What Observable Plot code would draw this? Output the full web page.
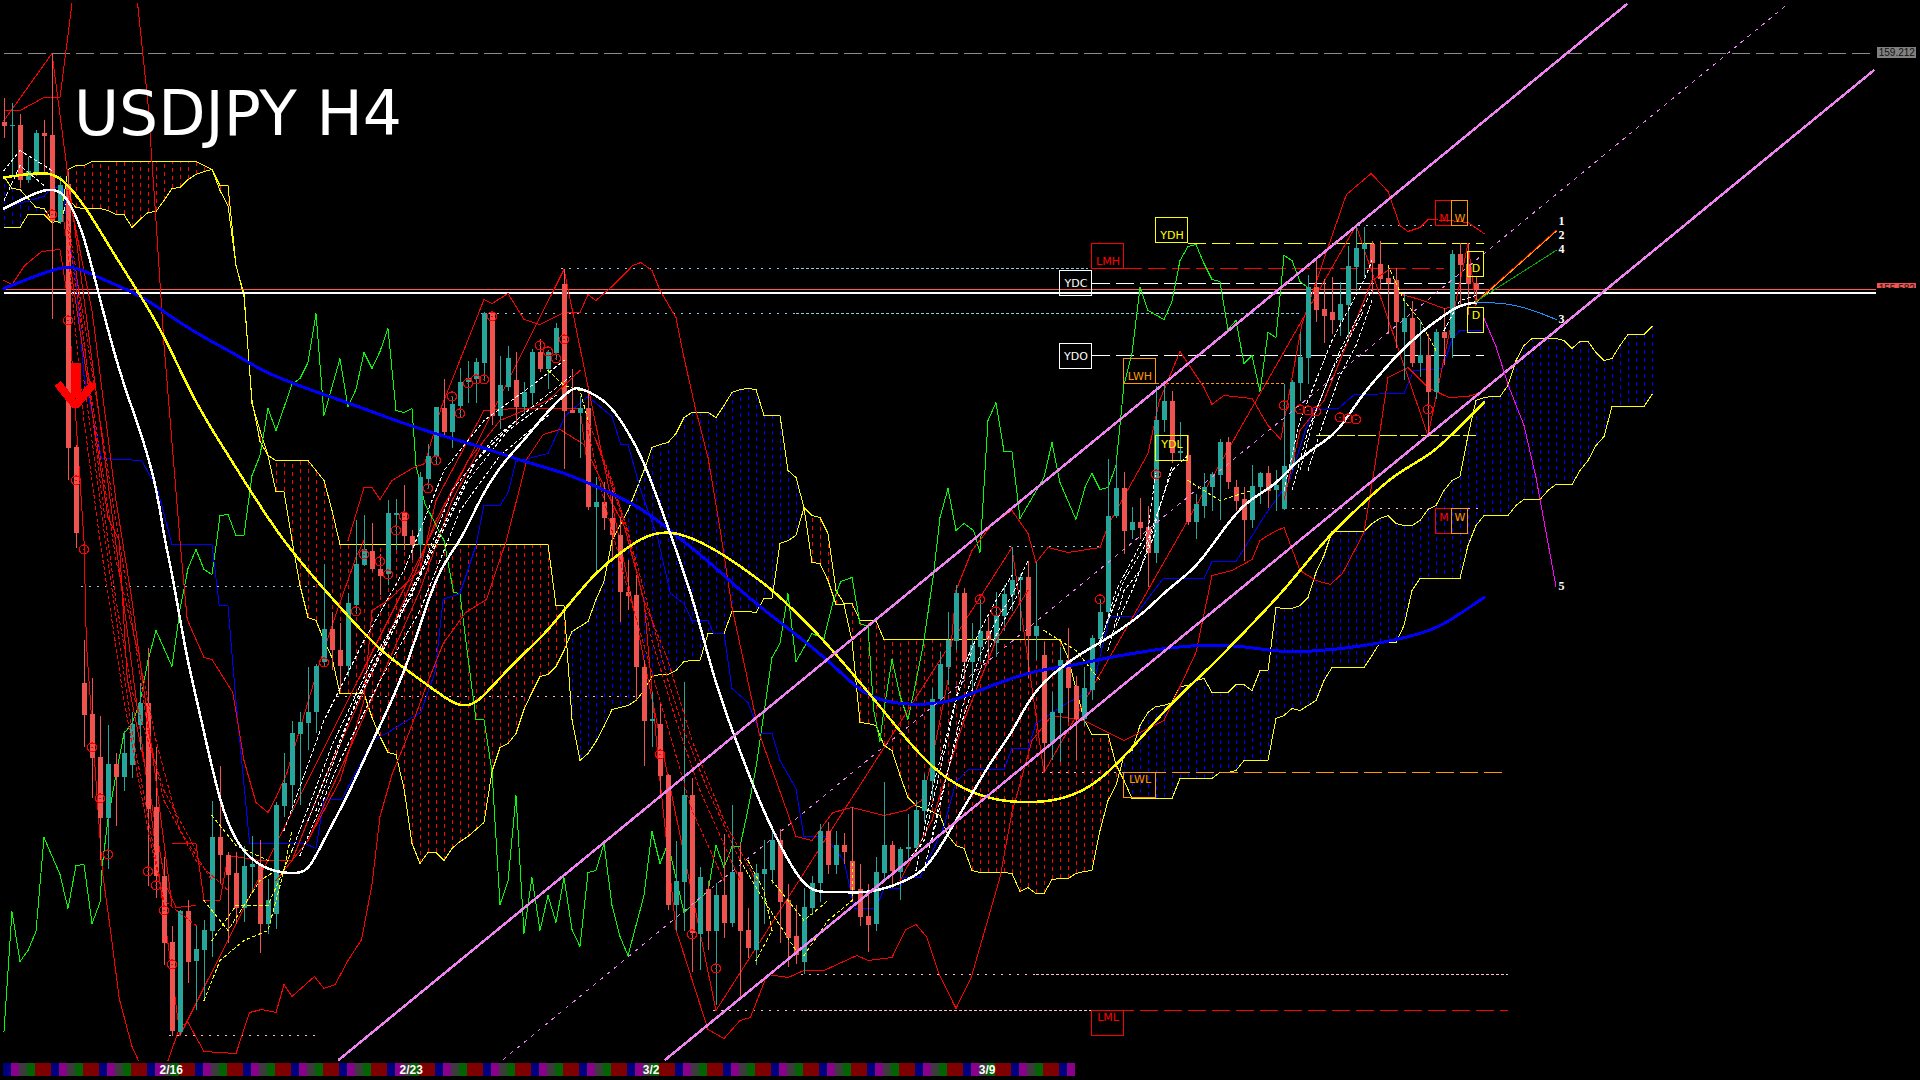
<!DOCTYPE html>
<html>
<head>
<meta charset="utf-8">
<title>USDJPY H4</title>
<style>html,body{margin:0;padding:0;background:#000;overflow:hidden}svg{display:block}svg path,svg line,svg rect,svg circle{shape-rendering:crispEdges}</style>
<script src="https://cdn.jsdelivr.net/npm/d3@7"></script>
<script src="https://cdn.jsdelivr.net/npm/@observablehq/plot@0.6"></script>
</head>
<body>
<div id="chart"></div>
<script>
// Horizontal unit: chart bar number. Vertical unit: price ticks counted down from the top of the price window.
const open = [122,126,125,180,172,133,135,222,184,447,683,714,757,818,764,777,765,725,703,807,876,942,1032,911,961,950,931,837,855,873,908,867,864,924,914,806,785,734,723,712,662,629,650,666,605,565,551,569,574,515,513,536,545,479,456,408,432,406,382,379,363,313,416,387,380,407,393,352,369,353,284,410,413,408,507,502,518,535,592,595,667,721,724,775,905,882,795,934,889,931,895,923,872,930,950,874,870,840,900,936,962,908,883,831,865,845,861,889,916,924,873,845,872,849,848,811,781,699,667,641,593,662,647,631,643,616,595,580,577,636,655,743,713,660,686,719,690,639,612,516,488,530,522,527,553,420,401,453,455,522,506,487,475,442,487,499,520,487,473,490,509,466,383,358,287,309,312,320,305,267,249,244,264,278,280,332,318,363,355,392,332,338,254,264,283];
const close = [126,125,180,171,133,136,221,185,448,533,715,758,818,764,777,753,724,703,809,876,943,1031,911,962,949,930,837,855,875,908,866,864,924,900,805,783,733,722,712,666,629,650,666,603,564,549,569,576,513,513,536,545,477,456,407,432,404,382,378,362,313,416,385,358,407,392,352,369,352,328,411,413,408,507,502,518,535,592,596,667,721,719,776,905,881,795,933,877,931,895,923,872,931,948,873,869,840,902,938,955,907,883,831,865,845,852,890,917,925,872,845,871,849,847,810,780,699,664,640,593,662,645,631,640,615,594,580,577,636,626,743,712,660,688,719,688,638,612,516,488,531,522,528,553,420,401,453,451,522,504,487,474,442,482,501,520,486,473,491,485,466,382,357,287,310,316,320,304,266,248,244,263,279,283,322,318,363,355,392,332,338,254,265,284,289];
const high = [98,103,114,157,130,120,53,176,172,445,640,678,716,725,753,731,712,683,648,747,857,926,910,900,926,920,801,766,852,852,846,836,840,879,802,753,721,712,667,664,564,612,623,593,520,515,523,554,500,499,485,530,472,444,407,379,396,368,361,358,312,312,356,346,352,382,349,339,350,323,269,369,396,389,477,482,490,517,560,575,660,692,702,774,841,682,778,867,881,883,834,805,843,908,864,840,829,829,884,905,888,876,824,822,831,833,807,864,884,857,782,841,847,814,800,774,688,652,612,585,588,623,599,617,592,585,547,574,561,562,642,692,647,628,676,667,635,600,459,460,472,507,498,506,386,384,391,422,435,494,473,472,439,437,480,487,465,472,466,470,384,380,332,275,258,279,277,282,246,225,227,241,241,268,268,294,301,320,334,329,308,250,243,243,277];
const low = [138,176,188,183,176,172,319,224,480,548,747,798,860,869,826,791,778,750,886,898,965,1036,1035,983,1010,1001,957,884,943,924,922,891,953,934,929,817,812,805,750,733,666,670,688,676,614,566,571,595,585,550,550,560,560,489,465,437,448,417,403,403,381,425,429,391,425,413,405,372,389,360,469,413,458,510,575,530,560,622,610,700,766,747,795,910,931,931,972,970,950,1005,938,927,998,958,965,924,884,943,967,964,974,915,902,874,874,864,902,926,952,931,881,888,900,859,855,822,798,702,685,650,678,688,662,664,657,631,611,631,678,660,772,760,762,722,760,726,700,648,621,518,554,539,539,587,563,432,463,460,525,539,518,511,520,489,511,561,528,504,508,511,510,470,401,384,322,343,334,336,339,291,277,294,289,334,348,380,367,377,434,399,365,358,305,315,305];

// Ichimoku spans, one reading per bar (the cloud runs on past the last candle).
const spanB = [227,227,227,214,214,214,222,220,169,165,165,161,161,161,161,161,161,161,161,161,161,161,161,161,161,165,169,185,185,265,293,403,430,455,460,460,460,460,460,470,480,510,544,544,544,544,544,544,544,544,544,544,544,544,544,544,544,544,544,544,544,544,544,544,544,544,544,544,544,605,605,719,760,753,741,726,709,707,705,700,690,676,674,674,670,661,660,660,633,633,633,611,611,611,612,598,598,543,540,535,507,515,517,533,590,603,603,620,620,620,639,639,639,639,639,639,639,639,639,639,639,639,639,639,639,639,639,639,639,639,639,639,639,657,688,719,734,734,734,764,780,798,798,798,798,798,798,778,778,778,778,778,772,772,770,760,760,760,760,718,715,708,710,705,700,680,667,667,667,667,667,655,642,642,642,625,590,578,578,578,578,578,578,545,525,515,515,515,515,505,499,499,499,490,484,484,484,470,460,445,436,406,406,406,406,406,394];
const spanA = [176,188,189,198,207,208,220,222,198,207,208,208,208,210,214,214,227,219,212,211,200,188,187,179,174,171,169,190,205,265,296,400,441,455,491,491,540,585,617,620,640,657,693,693,693,693,717,736,752,754,788,843,863,852,852,860,848,841,836,829,822,771,747,743,733,709,692,676,674,666,650,631,626,621,599,581,540,525,510,490,470,447,444,442,433,417,412,412,412,417,405,392,389,388,389,415,415,415,470,477,507,562,563,580,604,604,640,722,723,725,745,750,775,797,805,808,811,815,835,845,848,870,872,872,872,872,873,891,887,893,893,879,878,878,873,871,870,830,800,785,755,750,725,712,706,705,702,686,685,680,678,692,692,692,684,684,690,670,670,607,608,608,605,597,572,555,531,531,531,531,531,523,518,515,523,525,525,520,509,505,490,480,476,435,400,397,396,396,385,360,345,338,338,338,338,340,348,341,341,352,360,358,345,334,334,334,326];

// Moving averages: [bar, ticks] readings.
const maWhite = [[0,208],[3,196],[5,189],[7,189],[8.3,203],[10,234],[11.8,293],[14.4,372],[16.9,427],[19,482],[20,537],[21,571],[22.8,657],[24.6,716],[27,805],[29.2,845],[31.4,862],[33.5,871],[37,874],[38.3,867],[40.4,833],[43,795],[45.5,750],[48,709],[50.6,660],[52.6,609],[54.7,564],[57.2,540],[59.8,492],[62.8,458],[64.9,441],[68,410],[71,387],[72,387],[75.6,401],[77.6,427],[79.6,451],[83.6,540],[86.2,599],[88.7,678],[91.3,736],[93.9,791],[96.4,836],[99,874],[101,893],[104.6,891],[108,893],[111.7,884],[115.3,871],[118.3,829],[120.9,795],[123.4,760],[126,733],[128.5,692],[132,667],[135.2,650],[138,638],[142.8,611],[144.9,592],[149,568],[151.5,539],[155,501],[159,485],[161.2,463],[164,446],[166.8,432],[169.7,394],[172.8,367],[173.9,356],[177.5,329],[180,315],[182,304],[184,302]];
const maYellow = [[0,177],[5,171],[7.2,176],[10.3,207],[13.3,248],[16.9,293],[20,334],[23.5,396],[26.6,437],[30.7,489],[34.8,540],[39.9,588],[43.4,619],[47,650],[50.6,671],[54.7,695],[56.7,705],[58,705],[59.3,702],[63.8,661],[67.4,636],[70.5,605],[74,571],[77.6,549],[79.6,538],[82,531],[85,533],[89.6,552],[93.3,573],[96.2,590],[100.4,623],[102.5,640],[108.1,692],[112.2,733],[115.9,767],[120,790],[124.5,801],[128.5,802],[131.6,800],[135.2,790],[138.2,771],[141.8,741],[145.9,702],[150,673],[155,632],[160,590],[162.7,563],[166.2,530],[170.4,499],[173.9,473],[178.5,454],[181.6,429],[185,402]];
const maBlue = [[0,288],[7.2,265],[9.2,267],[13.8,284],[17.4,296],[21.5,320],[25,337],[29.2,355],[32.2,370],[35.8,382],[39.9,394],[44,405],[49.5,422],[54.7,435],[60.3,448],[64.9,461],[70,472],[73.5,484],[79.6,506],[83.7,533],[88,560],[92,590],[96.2,617],[100,640],[104,667],[106.6,688],[109.7,702],[115.3,705],[118.8,700],[121.9,690],[125.5,679],[129,670],[133,666],[138,657],[143.3,650],[147.9,645],[153.5,644],[159,651],[162.2,652],[170.4,646],[178,632],[180.6,621],[185,597]];

const oscGreen = [[0,1031],[1,911],[2,961],[3,950],[4,931],[5,837],[7,874],[8,908],[9,865],[10,864],[11,923],[12,902],[12.3,864],[13,819],[14,774],[15,733],[16,723],[17,702],[18,660],[19,630],[21,666],[22,609],[23,568],[24,549],[25,569],[26,574],[26.6,540],[27,515],[28,514],[29,535],[30,535],[31,475],[32,455],[33,408],[34,430],[36,384],[37,378],[38,362],[39,313],[40,415],[42,358],[43,406],[44,389],[45,352],[46,368],[47,351],[48,328],[49,410],[50,412],[51,408],[51.5,465],[52.6,503],[55,540],[56.2,592],[57,593],[58,657],[59,719],[60,719],[61,771],[62,904],[63,881],[64,795],[65,933],[66,877],[67,930],[68,895],[69,922],[70,877],[71,929],[72,946],[73,872],[74,870],[75,843],[76,905],[77,936],[78,955],[80,895],[81,831],[82,863],[83,843],[85,912],[88,891],[89,845],[90,867],[91,846],[92,846],[93,809],[94,767],[95,712],[96,657],[97,643],[98,593],[99,661],[101,633],[102.5,638],[103.6,602],[104.6,581],[106,577],[107,623],[108,626],[108.7,709],[109.5,741],[110,709],[111,659],[112,695],[113,719],[114,681],[115,640],[116.2,573],[117,517],[118,488],[119,530],[120,523],[121.2,530],[122,552],[123,420],[124,402],[125,451],[126,451],[127,518],[130,477],[131,442],[132,482],[134,519],[135.2,485],[136,473],[137,489],[138,487],[139,465],[140,384],[141,353],[142,287],[143,310],[145,319],[146,301],[147,260],[148,246],[149,244],[150,263],[151,279],[152,281],[153,329],[154,320],[155,363],[156,355],[157,391],[158,332],[159,337],[160,255],[161,260],[162,281],[163,287]];

const bandTopA = [[0,110],[2,110],[5,97],[7,97],[8.5,3]];
const bandTopB = [[16.7,3],[18,103],[19,220],[20,344],[22,540],[22.9,619],[25,657],[26,659],[28.6,692],[30,760],[31.5,802],[33,812],[34,797],[35.3,774],[39.4,664],[42,602],[44,557],[45,540]];
const bandRise = [[43,540],[45,487],[46,487],[47,499],[48.5,480],[51,468],[52.6,463],[54.7,406],[60,299],[61,303],[63,293],[65,319],[67,324],[70,312],[72,312],[73,294],[74,300],[76,286],[78.6,265],[79.6,262],[81,270],[82,290],[84,317],[85,357],[86.4,407],[88,457],[89.6,533],[91,607],[94.4,733],[97,791],[99,836],[101,840],[103.6,812],[106,807],[110,815],[112.7,810],[114.7,800],[116,760],[118,680],[119,590],[121,550],[123.6,523],[126,510],[128,533],[129,562],[130.5,547],[133,552],[137,547],[138,525],[143,453],[144.4,401],[147,351],[150,387],[151,404],[152.5,395],[156,398],[158,425],[159.6,439],[162.2,325],[164.8,263],[167.8,194],[170.9,173],[173,191],[174.5,225],[175.5,231],[177,227],[178,219],[180.6,220],[183,222],[185,233]];
const bandLowA = [[0,280],[1,284],[2.6,265],[4.7,251],[7,249],[8,300],[10,540],[10.3,643],[11.8,815],[12.3,871],[13.3,929],[14.4,998],[16,1046],[16.8,1060]];
const bandLowB = [[20.5,1060],[22,1026],[23,1022],[25,1051],[29,1053],[30.7,1012],[32.2,1009],[34,1012],[35,984],[36,996],[38.8,976],[40,988],[41.4,984],[43,960],[44.7,939],[46,884],[47,816],[48.5,774],[50.6,733],[53,681],[54.9,643],[57.7,612],[60.3,599],[62.8,540],[65.4,458],[67.4,434],[69.5,429],[72.5,444],[75.6,496],[77.6,527],[80,600],[82,780],[84,929],[86.2,984],[88,1029],[90,1038],[92,1020],[93.3,1017],[95.4,974],[98,977],[100,970],[102.5,970],[106.6,955],[108,960],[111,957],[112.7,929],[114,924],[115.3,936],[116.8,972],[119,1008],[120.9,977],[124.5,877],[126,812],[128.5,740],[131,715],[135,720],[140,740],[145,720],[149,652],[151,575],[153.5,570],[156,559],[157,540],[158.6,532],[160,527],[162,570],[164,580],[165.8,584],[167.3,573],[170,532],[171.4,463],[173,377],[175.5,367],[178,387],[180.6,397],[183,396],[185,391]];
const bandFast = [[7,193],[8,250],[13,517],[14.4,540],[15.4,678],[18,781],[20.2,884],[21.5,907],[24,905]];
const bandShort = [[174.7,294],[177,299],[180,308],[182.4,305]];
const zigzag = [[0,120],[6,53],[22,1035],[70,269],[89,1010],[126,547],[130,772],[169,225],[178,435],[183,243],[184,305]];
const tenkan = [[21,843],[24,843],[25,900],[27,900],[28,855],[32,860],[36,860],[38,840],[42,780],[45,700],[46,610],[48,600],[52,570],[54,500],[58,440],[60,410],[64,408],[70,408],[72,408],[73,470]];
const kijunBlue = [[0,207],[5,196],[6,186],[7.4,188],[8,231],[9,279],[10,375],[12.2,458],[17.2,460],[19.2,489],[21,544],[26,544],[26.9,605],[28,605],[28.9,692],[30.7,843],[37.6,843],[39,848],[40,799],[42.2,799],[45,757],[46,740],[47.8,733],[50.6,719],[52.1,712],[53.9,671],[54.9,599],[57,593],[59,545],[60,505],[62,505],[63,492],[64,461],[68,453],[70.2,415],[73,396],[76,416],[77.1,444],[78,444],[79.6,490],[81.7,537],[83.3,593],[85,603],[86,620],[88,620],[88.7,633],[90,633],[91,688],[93,702],[94.5,733],[96,733],[97,760],[99,788],[100,836],[102.8,836],[103.6,846],[105,860],[106.3,908],[109,908],[110,888],[112,888],[112.5,877],[114.5,877],[117.5,826],[119,781],[120.6,769],[125,769],[126,748],[128,748],[129,723],[133,702],[136,690],[138.2,616],[141.3,616],[144.9,578],[150,578],[151,561],[154,561],[157.6,515],[160.7,480],[162.7,429],[163.7,409],[166.8,408],[168.8,394],[175,393],[176.2,370],[179.8,368],[181,339],[182,330],[185,330]];

// Moving-average ribbon lines.
const ribbonWhite = [
 [[35,830],[40,720],[45,640],[50,570],[55,470],[60,420],[66,385],[70,360]],
 [[36,850],[41,745],[46,660],[51,595],[56,490],[61,440],[67,400],[71,375]],
 [[37,855],[42,760],[47,680],[52,610],[57,510],[62,455],[68,415]],
 [[38,820],[43,720],[48,640],[53,560],[58,480],[63,430],[69,395]],
 [[39,810],[44,700],[49,620],[54,540],[59,460],[64,420]],
 [[114,870],[116,790],[118,730],[120,665],[122,630],[124,600],[126,575]],
 [[115,870],[117,800],[119,740],[121,690],[123,650],[125,620],[127,590]],
 [[113,860],[115,840],[117,770],[119,700],[121,650]],
 [[116,840],[118,770],[120,700],[122,655],[124,620],[126,595],[128,560]],
 [[137,645],[139,590],[141,560],[143,530],[144,470]],
 [[138,650],[140,590],[142,570],[144,520],[146,465]],
 [[137,640],[140,580],[143,540],[146,470],[148,455]],
 [[139,625],[141,590],[144,530]],
 [[160,490],[162,420],[164,380],[166,340],[168,310],[170,280],[171,260]],
 [[161,490],[163,430],[165,390],[167,350],[169,320],[171,290]],
 [[162,470],[164,410],[166,370],[168,340],[170,310]],
 [[163,470],[165,420],[167,375],[169,345],[171,300]],
 [[180,330],[182,300],[184,295]],
 [[0,170],[2,150],[4,160],[6,170]],
 [[0,200],[2,165],[5,185]]
];
const ribbonRed = [
 [[8,220],[10,320],[12,420],[14,520],[16,620],[18,730],[20,800],[24,860],[28,890]],
 [[8,230],[11,400],[14,560],[17,660],[19,740],[22,830],[26,880]],
 [[9,270],[12,480],[14,600],[16,690],[20,790],[24,850]],
 [[8,250],[10,420],[12,540],[15,700],[18,830],[20,900],[24,925]],
 [[10,380],[13,560],[16,730],[19,860],[20,905]],
 [[73,420],[76,480],[79,560],[81,620],[83,680],[85,730],[88,790],[92,860]],
 [[74,440],[77,510],[80,600],[83,660],[86,740],[90,820],[94,880]],
 [[75,460],[78,530],[81,640],[84,720],[87,790],[92,880]],
 [[73,430],[75,500],[78,590],[82,700],[86,810],[90,880]]
];
const ribbonYellow = [
 [[26,815],[29,845],[33,860]],[[25,900],[28,930],[32,880],[34,870]],[[96,880],[100,920],[103,900]],
 [[25,1000],[27,960],[30,940],[33,930],[35,870],[36,830]],[[26,940],[29,905],[33,905],[36,850]],
 [[93,860],[95,890],[96,930],[94,960]],[[100,955],[103,920],[106,900],[106,860]],
 [[92,860],[95,900],[99,950]],[[173,265],[175,300],[177,320],[179,350]],[[68,370],[70,385],[72,390],[73,420]],
 [[148,480],[152,500],[156,490]],[[130,630],[134,650],[137,680]]
];
const ribbonSolid = [
 [[36,860],[40,780],[45,690],[50,600],[54,520],[58,460],[62,420],[68,400],[72,370]],
 [[34,880],[38,840],[42,770],[47,680],[52,590],[56,500],[60,440]],
 [[112,880],[116,820],[120,720],[124,640],[128,590]],
 [[160,500],[162,430],[165,400],[168,340],[171,280],[173,270]],
 [[8,190],[11,310],[14,500],[16,600],[19,780],[21,905]]
];

const channelUpper = [[41.9,1059],[202.8,4]];
const channelMiddle = [[62.4,1059],[222.9,4]];
const channelLower = [[82.7,1059],[233.7,70]];

const forecastRed = [[184,301],[194,230]];
const forecastOrange = [[184,302],[194,231]];
const forecastGreen = [[184,301],[194,250]];
const forecastBlue = [[184,302],[185,302],[188.2,303],[191.3,310],[194,319]];
const forecastMagenta = [[185,318],[186.5,346],[188,384],[190,425],[191.5,477],[194,586]];
const forecastNames = ["1","2","4","3","5"];
const forecastNameBar = [194.7,194.7,194.7,194.7,194.7];
const forecastNameLevel = [221,235,249,319,586];

// Signal rings: bar, ticks.
const ringBars = [6,8,9,10,11,12,13,18,19,20,21,40,44,45,47,48,49,50,53,54,56,57,58,59,60,61,67,68,69,70,82,86,89,122,124,137,144,160,162,163,164,167,168,169,178];
const ringLevels = [214,320,480,549,747,798,854,871,885,910,964,662,611,554,561,574,530,516,488,460,396,413,383,379,379,316,345,351,358,339,754,934,968,599,611,599,474,405,409,410,411,417,418,419,409];

// Horizontal levels: name, first bar, last bar, ticks.
const levelRows = [
 {n:"peak",a:0,b:234,y:53,c:"#8a8a8a",d:"18,6",w:1},
 {n:"ask",a:0,b:234,y:289,c:"#ff5a50",d:null,w:1.2},
 {n:"bid",a:0,b:234,y:292.5,c:"#ffffff",d:null,w:1.2},
 {n:"h1",a:69.7,b:99,y:268,c:"#87ceeb",d:"2,6",w:1.5},
 {n:"h1b",a:99,b:135.6,y:268,c:"#87ceeb",d:"3,2",w:1},
 {n:"h2",a:59.7,b:99,y:313,c:"#87ceeb",d:"2,6",w:1.5},
 {n:"h2b",a:99,b:162,y:313,c:"#87ceeb",d:"3,2",w:1},
 {n:"h3",a:169.3,b:185,y:225,c:"#87ceeb",d:"2,6",w:1.5},
 {n:"h4",a:125.7,b:137.7,y:546,c:"#87ceeb",d:"2,6",w:1.5},
 {n:"l1",a:9.7,b:39,y:586,c:"#87ceeb",d:"2,6",w:1.5},
 {n:"l2",a:41.7,b:79.6,y:696,c:"#ffc0cb",d:"2,6",w:1.5},
 {n:"l3",a:20.7,b:39,y:1035,c:"#ffc0cb",d:"2,6",w:1.5},
 {n:"l4",a:99.7,b:129,y:974,c:"#ffc0cb",d:"2,6",w:1.5},
 {n:"l4b",a:129,b:188,y:974,c:"#ffc0cb",d:"3,2",w:1},
 {n:"l5",a:88.7,b:100,y:1010,c:"#ffc0cb",d:"2,6",w:1.5},
 {n:"l5b",a:100,b:136,y:1010,c:"#ffc0cb",d:"3,2",w:1},
 {n:"LML",a:136,b:188,y:1010,c:"#ff0000",d:"18,6",w:1},
 {n:"l6",a:129.8,b:140,y:772,c:"#ffc0cb",d:"2,6",w:1.5},
 {n:"LWL",a:140,b:188,y:772,c:"#ff9900",d:"18,6",w:1},
 {n:"l7",a:160,b:185,y:508,c:"#ffc0cb",d:"2,6",w:1.5},
 {n:"YDH",a:148,b:185,y:243,c:"#ffff00",d:"18,6",w:1},
 {n:"LMH",a:140,b:180,y:268,c:"#ff0000",d:"18,6",w:1},
 {n:"YDC",a:136,b:185,y:283,c:"#ffffff",d:"18,6",w:1},
 {n:"YDO",a:136,b:185,y:355,c:"#ffffff",d:"18,6",w:1},
 {n:"LWH",a:144,b:160,y:383,c:"#ff9900",d:"3,2",w:1},
 {n:"YDL",a:164,b:184,y:435,c:"#ffff00",d:"18,3",w:1}
];

// Label boxes: text, first bar, width in bars, top ticks, colour, text depth inside the box.
const boxRows = [
 {t:"YDC",x:132,w:4,y:270,c:"#ffffff",p:13},{t:"YDO",x:132,w:4,y:343,c:"#ffffff",p:13},
 {t:"LMH",x:136,w:4,y:243,c:"#ff0000",p:18},{t:"YDH",x:144,w:4,y:217,c:"#ffff00",p:18},
 {t:"LWH",x:140,w:4,y:358,c:"#ff9900",p:18},{t:"YDL",x:144,w:4,y:435,c:"#ffff00",p:9},
 {t:"M",x:179,w:2,y:200,c:"#ff0000",p:18},{t:"W",x:181,w:2,y:200,c:"#ff9900",p:18},
 {t:"M",x:179,w:2,y:508,c:"#ff0000",p:9},{t:"W",x:181,w:2,y:508,c:"#ff9900",p:9},
 {t:"D",x:183,w:2,y:251,c:"#ffff00",p:17},{t:"D",x:183,w:2,y:307,c:"#ffff00",p:8},
 {t:"LWL",x:140,w:4,y:772,c:"#ff9900",p:7},{t:"LML",x:136,w:4,y:1010,c:"#ff0000",p:7}
];

const sessionColors = ["#00007f","#8b008b","#3c3c3c","#006400","#7f0000","#7f0000"];
const sessionCount = 134;
const dateLabels = ["2/16","2/23","3/2","3/9"];
const dateBars = [20.9,50.9,80.9,122.9];
const priceLabels = ["159.212","155.582"];

const bars = open.map((o,i)=>({i,o,c:close[i],h:high[i],l:low[i],col:close[i]<=o?"#26a69a":"#ef5350"}));
const cloud = spanA.map((a,i)=>({i,a,b:spanB[i],col:spanB[i]<a?"#ff0000":"#0000ff"}));
const rings = ringBars.map((b,k)=>({b,y:ringLevels[k]}));
const cells = d3.range(sessionCount).map(i=>({i,col:sessionColors[i%6]}));

const path = (pts,stroke,strokeWidth,extra={}) => Plot.line(pts,{x:d=>d[0],y:d=>d[1],stroke,strokeWidth,...extra});
const smooth = {curve:"basis"};

const chart = Plot.plot({
  width:1920,height:1080,margin:0,
  style:{background:"#000",display:"block"},
  x:{axis:null,domain:[-0.4375,239.5625],range:[0,1920]},
  y:{axis:null,domain:[0,1080],range:[0,1080]},
  color:{type:"identity"},
  marks:[
    Plot.ruleX(cloud,{x:"i",y1:"a",y2:"b",stroke:"col",strokeWidth:1,strokeDasharray:"4,4"}),
    Plot.line(spanA,{x:(d,i)=>i,y:d=>d,stroke:"#ffff00",strokeWidth:1}),
    Plot.line(spanB,{x:(d,i)=>i,y:d=>d,stroke:"#ffff00",strokeWidth:1}),
    ...levelRows.map(r=>Plot.ruleY([r],{y:"y",x1:"a",x2:"b",stroke:r.c,strokeWidth:r.w,strokeDasharray:r.d||undefined})),
    path(oscGreen,"#00ff00",1),
    path(kijunBlue,"#0000ff",1),
    ...[bandTopA,bandTopB,bandRise,bandLowA,bandLowB,bandFast,bandShort,zigzag,tenkan].map(p=>path(p,"#ff0000",1)),
    Plot.ruleX(bars,{x:"i",y1:"h",y2:"l",stroke:"col",strokeWidth:1}),
    Plot.ruleX(bars,{x:"i",y1:"o",y2:"c",stroke:"col",strokeWidth:5}),
    ...ribbonRed.map(p=>path(p,"#ff0000",1,{strokeDasharray:"3,3"})),
    ...ribbonSolid.map(p=>path(p,"#ff0000",1)),
    ...ribbonWhite.map(p=>path(p,"#ffffff",1,{strokeDasharray:"3,3"})),
    ...ribbonYellow.map(p=>path(p,"#ffff00",1,{strokeDasharray:"3,3"})),
    path(maBlue,"#0000ff",3,smooth),
    path(maYellow,"#ffff00",2.5,smooth),
    path(maWhite,"#ffffff",2.5,smooth),
    path(channelUpper,"#ee82ee",2.5),
    path(channelLower,"#ee82ee",2.5),
    path(channelMiddle,"#ee82ee",1,{strokeDasharray:"3,6"}),
    path(forecastRed,"#ff0000",1),
    path(forecastOrange,"#ffa500",1),
    path(forecastGreen,"#00b000",1),
    path(forecastBlue,"#1e90ff",1,smooth),
    path(forecastMagenta,"#ff00ff",1),
    Plot.text(forecastNames,{x:(d,i)=>forecastNameBar[i],y:(d,i)=>forecastNameLevel[i],text:d=>d,fill:"#fff",fontFamily:"Liberation Serif",fontWeight:"bold",fontSize:12}),
    Plot.dot(rings,{x:"b",y:"y",r:4.5,stroke:"#ff0000",strokeWidth:1.2,fill:"none"}),
    Plot.dot(rings,{x:"b",y:"y",r:1,fill:"#ff0000"}),
    Plot.rect(boxRows,{x1:"x",x2:d=>d.x+d.w,y1:"y",y2:d=>d.y+25,fill:"#000",fillOpacity:0,stroke:"c",strokeWidth:1}),
    Plot.text(boxRows,{x:d=>d.x+d.w/2,y:d=>d.y+d.p,text:"t",fill:"c",fontFamily:"DejaVu Sans",fontSize:11}),
    // dropped-price arrow
    Plot.ruleX([8.94],{y1:363,y2:398,stroke:"#ff0000",strokeWidth:10}),
    path([[6.7,383],[8.94,405],[11.2,383]],"#ff0000",8,{strokeLinejoin:"miter",strokeLinecap:"butt"}),
    // session strip
    Plot.rect(cells,{x1:d=>d.i-0.0625,x2:d=>d.i+0.9375,y1:1063,y2:1076,fill:"col"}),
    Plot.text(dateLabels,{x:(d,i)=>dateBars[i],y:1070,text:d=>d,fill:"#fff",fontFamily:"Liberation Sans",fontWeight:"bold",fontSize:12}),
    // price tags
    Plot.rect([0],{x1:234.2,x2:239,y1:47,y2:58,fill:"#808080"}),
    Plot.text([priceLabels[0]],{x:236.6,y:52.5,text:d=>d,fill:"#111",fontFamily:"Liberation Sans",fontSize:10}),
    Plot.rect([0],{x1:234.2,x2:239,y1:283,y2:288,fill:"#ef5350"}),
    Plot.text([priceLabels[1]],{x:236.6,y:288,text:d=>d,fill:"#111",fontFamily:"Liberation Sans",fontSize:10}),
    Plot.rect([0],{x1:234.2,x2:239,y1:288,y2:300,fill:"#000"}),
    // title
    Plot.text(["USDJPY H4"],{x:8.76,y:134,text:d=>d,textAnchor:"start",lineAnchor:"bottom",fill:"#fff",fontFamily:"DejaVu Sans",fontSize:61.5})
  ]
});
document.getElementById("chart").append(chart);
</script>
</body>
</html>
